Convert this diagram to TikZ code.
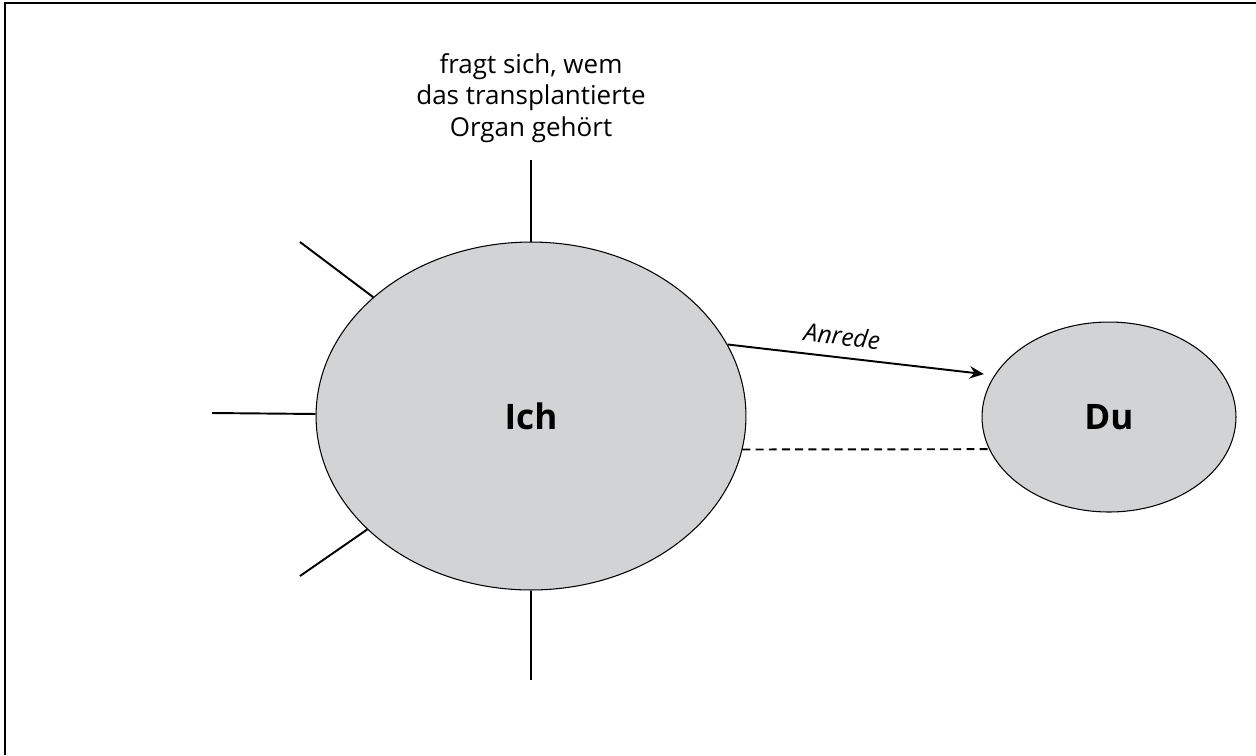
\documentclass[tikz,border=0pt]{standalone}
\usepackage{fontspec}
\setmainfont{Open Sans}
\usepackage{tikz}
\usetikzlibrary{shapes.geometric,arrows.meta,positioning}
\definecolor{kreisgrau}{RGB}{209,211,212}

\begin{document}
\begin{tikzpicture}[x=0.02cm,y=-0.02cm,>={Stealth[length=8pt,width=7pt]}]
  \tikzset{kreis/.style={ellipse,draw,line width=0.6pt,fill=kreisgrau,inner sep=0pt,font=\fontsize{20}{24}\selectfont\bfseries},
    strahl/.style={line width=1.1pt}}
  \useasboundingbox (0,0) rectangle (1256,755);
  \draw[line width=1.2pt] (5,755)--(5,3)--(1256,3);
  \node[kreis,minimum width=8.6cm,minimum height=6.96cm] (ich) at (531,416) {Ich};
  \node[kreis,minimum width=5.08cm,minimum height=3.8cm] (du) at (1109,417) {Du};
  \node[align=center,font=\fontsize{14.8}{18.1}\selectfont] (frage) at (531,98) {fragt sich, wem\\das transplantierte\\Organ gehört};
  \coordinate (oben) at (531,160);
  \coordinate (unten) at (531,680);
  \coordinate (links) at (212,413);
  \coordinate (linksoben) at (300,242);
  \coordinate (linksunten) at (300,576);
  \foreach \c in {oben,unten,links,linksoben,linksunten} \draw[strahl] (ich) -- (\c);
  \draw[strahl,->,shorten >=6pt] (ich.20) -- node[pos=0.42,above=3pt,sloped,font=\fontsize{14}{16}\selectfont\itshape] {Anrede} (du.160);
  \draw[strahl,dashed,dash pattern=on 4.5pt off 3pt] (ich.-9) -- (du.-165);
\end{tikzpicture}
\end{document}
